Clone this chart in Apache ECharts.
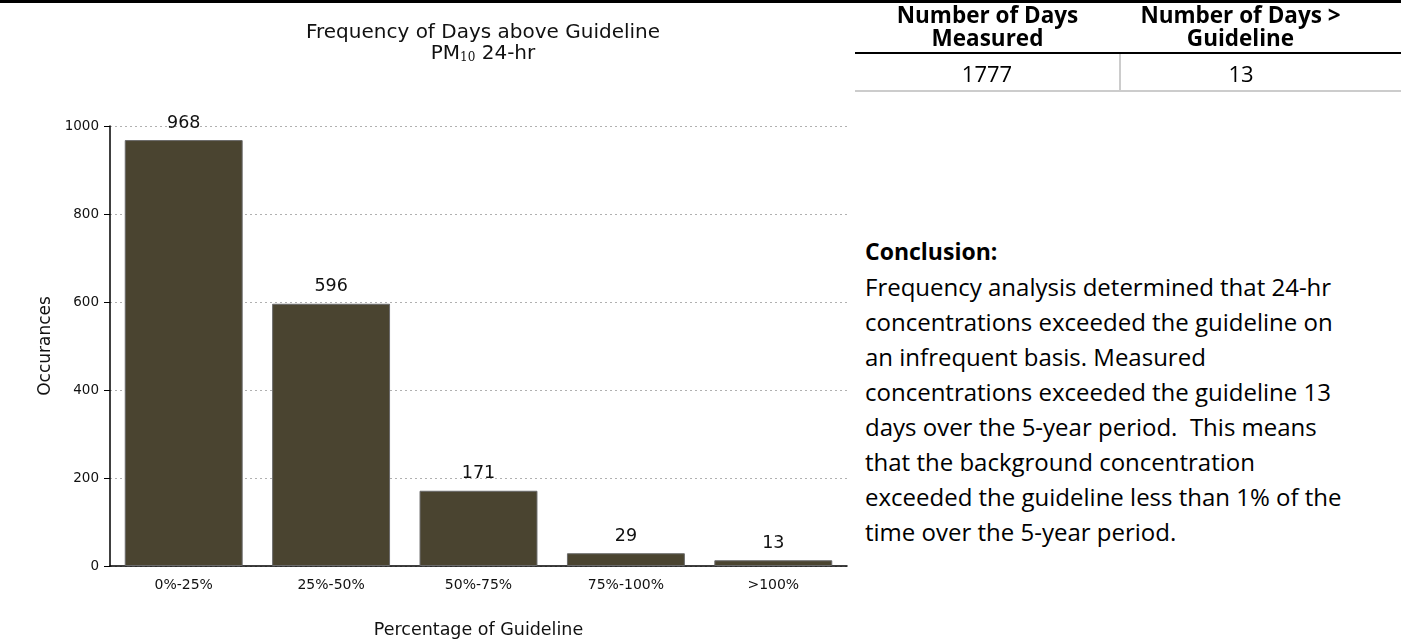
<!DOCTYPE html>
<html>
<head>
<meta charset="utf-8">
<script src="https://cdn.jsdelivr.net/npm/echarts@6/dist/echarts.min.js"></script>
<style>
  body { margin: 0; background: #fff; width: 1401px; height: 640px; position: relative; overflow: hidden; }
  .topRule { position: absolute; left: 0; top: 0; width: 1401px; height: 3px; background: #000; z-index: 2; }
  #chart { position: absolute; left: 0; top: 0; width: 860px; height: 640px; }
  .tbl { position: absolute; left: 855px; top: 0px; width: 546px; border-collapse: collapse; font-family: "Open Sans", "Noto Sans", sans-serif; color: #000; }
  .tbl th { font-size: 22.5px; font-weight: bold; line-height: 23px; padding: 3px 0 3px 0; border-bottom: 2px solid #000; text-align: center; }
  .tbl td { font-size: 22px; text-align: center; line-height: 26px; padding: 6px 0 4px 0; border-bottom: 2px solid #ccc; }
  .tbl td + td { border-left: 2px solid #ccc; }
  .tbl .c2 { padding-right: 40px; }
  .conc { position: absolute; left: 865px; top: 233px; width: 540px; font-family: "Open Sans", "Noto Sans", sans-serif; font-size: 24px; line-height: 35px; color: #000; }
  .conc b { font-size: 23px; }
</style>
</head>
<body>
<div class="topRule"></div>
<div id="chart"></div>
<table class="tbl">
  <tr><th style="width:265px">Number of Days<br>Measured</th><th class="c2">Number of Days &gt;<br>Guideline</th></tr>
  <tr><td id="daysMeasured"></td><td class="c2" id="daysAbove"></td></tr>
</table>
<div class="conc">
  <b>Conclusion:</b><br>
  Frequency analysis determined that 24-hr<br>
  concentrations exceeded the guideline on<br>
  an infrequent basis. Measured<br>
  concentrations exceeded the guideline 13<br>
  days over the 5-year period.&nbsp; This means<br>
  that the background concentration<br>
  exceeded the guideline less than 1% of the<br>
  time over the 5-year period.
</div>
<script>
// percentage-of-guideline bins and day counts
const categories = ['0%-25%', '25%-50%', '50%-75%', '75%-100%', '>100%'];
const occurances = [968, 596, 171, 29, 13];
const daysMeasured = 1777;
const daysAbove = 13;

document.getElementById('daysMeasured').textContent = daysMeasured;
document.getElementById('daysAbove').textContent = daysAbove;

const chart = echarts.init(document.getElementById('chart'));
const font = 'DejaVu Sans';
chart.setOption({
  animation: false,
  textStyle: { fontFamily: font },
  title: {
    text: 'Frequency of Days above Guideline\n{n|PM}{sub|10}{n| 24-hr}',
    left: 478,
    top: 17,
    textAlign: 'center',
    textStyle: {
      fontFamily: font,
      fontWeight: 'normal',
      fontSize: 20,
      color: '#111',
      lineHeight: 21,
      rich: {
        n: { fontFamily: font, fontSize: 20, color: '#111', lineHeight: 21 },
        sub: { fontFamily: 'DejaVu Serif', fontSize: 12, color: '#111', padding: [9, 0, 0, 0], lineHeight: 21 }
      }
    }
  },
  grid: { left: 110, right: 13, top: 126, bottom: 74, outerBoundsMode: 'none', containLabel: false },
  xAxis: {
    type: 'category',
    data: categories,
    name: 'Percentage of Guideline',
    nameLocation: 'middle',
    nameGap: 55,
    nameTextStyle: { fontSize: 17.5, color: '#111', fontFamily: font },
    axisLine: { lineStyle: { color: '#000', width: 1.5 } },
    axisTick: { alignWithLabel: true, length: 6, lineStyle: { color: '#000' } },
    axisLabel: { fontSize: 14, color: '#111', margin: 12, fontFamily: font }
  },
  yAxis: {
    type: 'value',
    min: 0,
    max: 1000,
    interval: 200,
    name: 'Occurances',
    nameLocation: 'middle',
    nameGap: 56,
    nameTextStyle: { fontSize: 17, color: '#111', fontFamily: font },
    axisLine: { show: true, lineStyle: { color: '#000', width: 1.5 } },
    axisTick: { show: true, length: 6, lineStyle: { color: '#000' } },
    axisLabel: { fontSize: 13.5, color: '#111', margin: 11, fontFamily: font, formatter: v => String(v) },
    splitLine: { lineStyle: { color: '#b0b0b0', type: [2, 3], width: 1 } }
  },
  series: [{
    type: 'bar',
    data: occurances,
    barWidth: '80%',
    itemStyle: { color: '#4a4430', borderColor: '#6a6a6a', borderWidth: 1 },
    label: { show: true, position: 'top', distance: 8, fontSize: 17.5, color: '#111', fontFamily: font }
  }]
});
</script>
</body>
</html>
